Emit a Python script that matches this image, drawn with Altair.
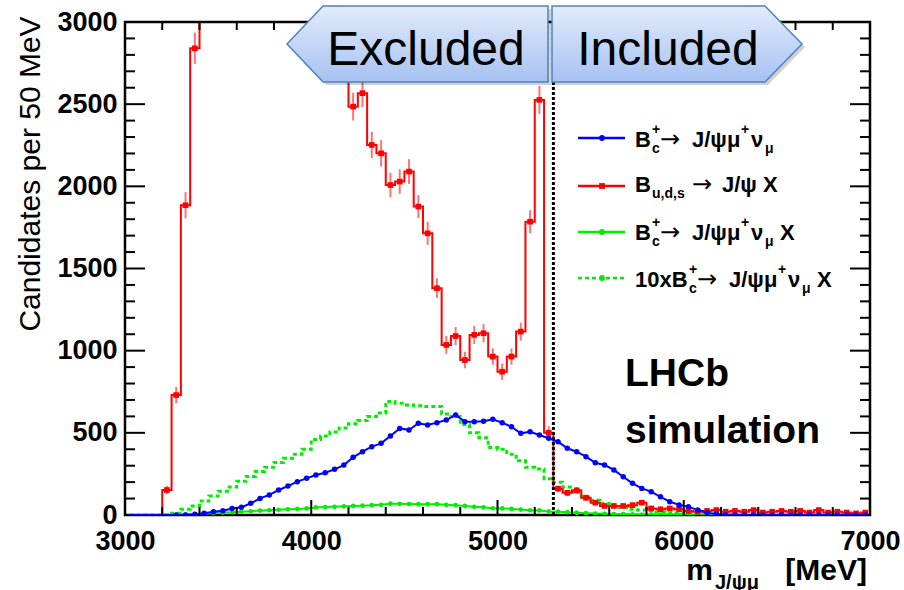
import altair as alt
import pandas as pd

FONT = "Liberation Sans"
W, H = 745, 493          # plot area
X0, Y0 = 125, 22         # plot origin in page pixels

# ---------------- data (50 MeV bins, centres 3025 ... 6975) ----------------
bin_centres = list(range(3025, 7000, 50))

blue_bc_jpsimunu = [0, 0, 0, 0, 0, 0, 0,
                    5, 10, 20, 26, 40, 47, 71, 101, 122, 152, 176, 203, 223,
                    243, 257, 278, 304, 351, 385, 416, 436, 481, 527,
                    517, 558, 548, 562, 578, 609, 568, 568, 570, 582,
                    562, 537, 497, 507, 487, 467, 446, 406, 385, 355,
                    318, 304, 274, 233, 193, 162, 142, 111, 81, 61,
                    51, 30, 14, 6, 2,
                    0, 0, 0, 0, 0, 0, 0, 0, 0, 0, 0, 0, 0, 0, 0]

red_budsx = [0, 0, 0, 0,
             152, 730, 1885, 2840,
             3600, 4300, 4800, 5100, 5300, 5300, 5200, 5000, 4800, 4500, 4200, 3900, 3600, 3400, 3200, 2950,
             2485, 2567, 2252, 2201, 2008, 2029, 2090, 1877, 1714, 1380,
             1035, 1089, 943, 1096, 1106, 964, 872, 964, 1116, 1785,
             2526, 500,
             160, 135, 150, 105, 75, 55, 55, 55, 60, 75,
             40, 35, 40, 35, 25, 20, 25, 30, 20, 25,
             20, 30, 15, 20, 25, 20, 25, 15, 30, 15,
             20, 15, 10, 15]

red_err = [0, 0, 0, 0,
           25, 50, 80, 95,
           100, 100, 100, 100, 100, 100, 100, 100, 100, 100, 100, 100, 100, 100, 100, 100,
           85, 85, 80, 80, 75, 75, 75, 70, 70, 60,
           55, 55, 50, 55, 55, 50, 50, 50, 55, 70,
           85, 40,
           20, 20, 20, 18, 15, 12, 12, 12, 12, 15,
           10, 10, 10, 10, 8, 8, 8, 9, 8, 8,
           8, 9, 7, 8, 8, 8, 8, 7, 9, 7,
           8, 7, 6, 7]

green_bc_jpsimunux = [0, 0, 0, 0, 0,
                      1, 3, 5, 8, 12, 15, 17, 20, 23, 27, 29, 32, 35, 37, 40,
                      46, 48, 50, 53, 55, 57, 60, 62, 69, 68,
                      67, 66, 66, 66, 62, 60, 55, 50, 47, 41,
                      40, 37, 33, 29, 28, 22, 20, 17, 14, 11,
                      9, 7, 6, 5, 4, 3, 2, 2, 1, 1,
                      1, 0, 0, 0, 0,
                      0, 0, 0, 0, 0, 0, 0, 0, 0, 0, 0, 0, 0, 0, 0]

green10_bc_jpsimunux = [0, 0, 0, 0, 0,
                        10, 35, 55, 85, 115, 145, 170, 205, 235, 265, 290, 320, 345, 370, 400,
                        460, 480, 505, 530, 555, 575, 600, 620, 690, 680,
                        670, 665, 660, 660, 615, 600, 550, 500, 470, 410,
                        400, 370, 330, 290, 280, 220, 200, 170, 140, 110,
                        90, 70, 55, 45, 35, 30, 25, 18, 14, 10,
                        8, 5, 3, 2, 1,
                        0, 0, 0, 0, 0, 0, 0, 0, 0, 0, 0, 0, 0, 0, 0]

x_tick_labels = [3000, 4000, 5000, 6000, 7000]
y_tick_labels = [0, 500, 1000, 1500, 2000, 2500, 3000]
x_minor = [3200, 3400, 3600, 3800, 4200, 4400, 4600, 4800, 5200, 5400, 5600, 5800, 6200, 6400, 6600, 6800]
x_major = [4000, 5000, 6000]
y_minor = [100, 200, 300, 400, 600, 700, 800, 900, 1100, 1200, 1300, 1400, 1600, 1700, 1800, 1900,
           2100, 2200, 2300, 2400, 2600, 2700, 2800, 2900]
y_major = [500, 1000, 1500, 2000, 2500]
cut_mass = [5300]

# ---------------- tables ----------------
df_blue = pd.DataFrame({"m": bin_centres, "v": blue_bc_jpsimunu})
df_red = pd.DataFrame({"m": bin_centres, "v": red_budsx})
df_red_err = pd.DataFrame({"m": bin_centres,
                           "v": [a - e for a, e in zip(red_budsx, red_err)],
                           "v2": [a + e for a, e in zip(red_budsx, red_err)]})
df_red_err = df_red_err[df_red_err["v2"] > 0]
df_green = pd.DataFrame({"m": bin_centres, "v": green_bc_jpsimunux})
df_green10 = pd.DataFrame({"m": bin_centres, "v": green10_bc_jpsimunux})

x_scale = alt.Scale(domain=[3000, 7000], nice=False, zero=False)
y_scale = alt.Scale(domain=[0, 3000], nice=False)
x_axis = alt.Axis(values=x_tick_labels, format="d", ticks=False, tickSize=0, domain=False, grid=False,
                  title=None, labelPadding=13, labelFont=FONT, labelFontSize=27, labelFlush=False,
                  labelFontWeight="bold", labelColor="black")
y_axis = alt.Axis(values=y_tick_labels, format="d", ticks=False, tickSize=0, domain=False, grid=False,
                  title=None, labelPadding=8, labelFont=FONT, labelFontSize=27, labelFlush=False,
                  labelFontWeight="bold", labelColor="black")
X = alt.X("m:Q", scale=x_scale, axis=x_axis)
Y = alt.Y("v:Q", scale=y_scale, axis=y_axis)
Y2 = alt.Y2("v2:Q")

BLUE, RED, GREEN = "#0000ff", "#ff0000", "#00ee00"

layers = []

# green x10 (dotted)
layers.append(alt.Chart(df_green10).mark_line(interpolate="step", color=GREEN, strokeWidth=3,
                                              strokeDash=[4, 3], clip=True).encode(x=X, y=Y))
# green solid
layers.append(alt.Chart(df_green).mark_line(color=GREEN, strokeWidth=2, clip=True).encode(x=X, y=Y))
layers.append(alt.Chart(df_green[df_green["m"] > 3250]).mark_point(shape="circle", filled=True, size=22,
                                                                  color=GREEN, opacity=1, clip=True).encode(x=X, y=Y))
# red histogram with errors
layers.append(alt.Chart(df_red_err[df_red_err["m"] > 3200]).mark_rule(color=RED, strokeWidth=2, opacity=0.55,
                                                                     clip=True).encode(x=X, y=Y, y2=Y2))
layers.append(alt.Chart(df_red).mark_line(interpolate="step", color=RED, strokeWidth=2, clip=True).encode(x=X, y=Y))
layers.append(alt.Chart(df_red[df_red["m"] > 3200]).mark_point(shape="square", filled=True, size=32,
                                                             color=RED, opacity=1, clip=True).encode(x=X, y=Y))
# blue
layers.append(alt.Chart(df_blue).mark_line(color=BLUE, strokeWidth=2, clip=True).encode(x=X, y=Y))
layers.append(alt.Chart(df_blue[df_blue["m"] > 3250]).mark_point(shape="circle", filled=True, size=30,
                                                                color=BLUE, opacity=1, clip=True).encode(x=X, y=Y))

# cut line
layers.append(alt.Chart(pd.DataFrame({"m": cut_mass})).mark_rule(color="black", strokeWidth=3,
                                                                strokeDash=[3, 2]).encode(
    x=X, y=alt.value(0), y2=alt.value(H)))

# inward ticks (ROOT style) on all four sides
for vals, ln in ((x_minor, 8), (x_major, 15)):
    d = pd.DataFrame({"m": vals})
    layers.append(alt.Chart(d).mark_rule(color="black", strokeWidth=2).encode(x=X, y=alt.value(H), y2=alt.value(H - ln)))
    layers.append(alt.Chart(d).mark_rule(color="black", strokeWidth=2).encode(x=X, y=alt.value(0), y2=alt.value(ln)))
for vals, ln in ((y_minor, 10), (y_major, 20)):
    d = pd.DataFrame({"v": vals})
    layers.append(alt.Chart(d).mark_rule(color="black", strokeWidth=2).encode(y=Y, x=alt.value(0), x2=alt.value(ln)))
    layers.append(alt.Chart(d).mark_rule(color="black", strokeWidth=2).encode(y=Y, x=alt.value(W), x2=alt.value(W - ln)))


# ---------------- callouts "Excluded" / "Included" ----------------
def xd(px):
    return 3000 + (px - X0) * 4000 / W


def yd(py):
    return (Y0 + H - py) * 3000 / H


def shape_df(pts, dx=0, dy=0):
    return pd.DataFrame({"m": [xd(p[0] + dx) for p in pts],
                         "v": [yd(p[1] + dy) for p in pts],
                         "v2": [yd(p[2] + dy) for p in pts]})


excl_pts = [(287, 44, 44), (323, 6, 82), (548, 6, 82)]
incl_pts = [(552, 6, 82), (765, 6, 82), (802, 44, 44)]
grad = alt.LinearGradient(gradient="linear",
                          stops=[alt.GradientStop(color="#e2ebfb", offset=0),
                                 alt.GradientStop(color="#a6c2f2", offset=1)],
                          x1=0, x2=0, y1=0, y2=1)
for pts in (excl_pts, incl_pts):
    layers.append(alt.Chart(shape_df(pts, 3, 3)).mark_area(color="#000000", opacity=0.18).encode(x=X, y=Y, y2=Y2))
    layers.append(alt.Chart(shape_df(pts)).mark_area(fill=grad, stroke="#4f81bd", strokeWidth=1.5,
                                                     opacity=1).encode(x=X, y=Y, y2=Y2))

one = pd.DataFrame({"a": [0]})


def txt(text, px, py, size, bold=True, align="left", font=FONT, angle=0):
    kw = dict(text=text, fontSize=size, font=font, align=align, baseline="alphabetic",
              fontWeight="bold" if bold else "normal", color="black")
    if angle:
        kw["angle"] = angle
    return alt.Chart(one).mark_text(**kw).encode(x=alt.value(px - X0), y=alt.value(py - Y0))


layers.append(txt("Excluded", 426, 65, 48, bold=False, align="center"))
layers.append(txt("Included", 668, 65, 48, bold=False, align="center"))

# ---------------- legend ----------------
leg = [(138, BLUE, "circle", None), (186, RED, "square", None),
       (232, GREEN, "circle", None), (278, GREEN, "circle", [4, 3])]
for yy, col, shp, dash in leg:
    kw = dict(color=col, strokeWidth=2.5)
    if dash:
        kw["strokeDash"] = dash
    layers.append(alt.Chart(one).mark_rule(**kw).encode(
        x=alt.value(578 - X0), x2=alt.value(625 - X0), y=alt.value(yy - Y0)))
    layers.append(alt.Chart(one).mark_point(shape=shp, filled=True, size=34, color=col, opacity=1).encode(
        x=alt.value(602 - X0), y=alt.value(yy - Y0)))

ARROW_FONT = "DejaVu Sans"
segments = [
    # entry 1
    ("B", 635, 147, 22, True, FONT), ("+", 652, 134, 14, True, FONT), ("c", 652, 153, 14, True, FONT),
    ("\u2192", 660, 147, 24, False, ARROW_FONT), ("J/\u03c8\u03bc", 692, 147, 22, True, FONT),
    ("+", 741, 134, 14, True, FONT), ("\u03bd", 751, 147, 22, True, FONT), ("\u03bc", 765, 153, 14, True, FONT),
    # entry 2
    ("B", 635, 192, 22, True, FONT), ("u,d,s", 652, 198, 14, True, FONT),
    ("\u2192", 692, 192, 24, False, ARROW_FONT), ("J/\u03c8 X", 722, 192, 22, True, FONT),
    # entry 3
    ("B", 635, 240, 22, True, FONT), ("+", 652, 227, 14, True, FONT), ("c", 652, 246, 14, True, FONT),
    ("\u2192", 660, 240, 24, False, ARROW_FONT), ("J/\u03c8\u03bc", 692, 240, 22, True, FONT),
    ("+", 741, 227, 14, True, FONT), ("\u03bd", 751, 240, 22, True, FONT), ("\u03bc", 765, 246, 14, True, FONT),
    ("X", 780, 240, 22, True, FONT),
    # entry 4
    ("10xB", 635, 287, 22, True, FONT), ("+", 689, 274, 14, True, FONT), ("c", 689, 293, 14, True, FONT),
    ("\u2192", 697, 287, 24, False, ARROW_FONT), ("J/\u03c8\u03bc", 729, 287, 22, True, FONT),
    ("+", 778, 274, 14, True, FONT), ("\u03bd", 788, 287, 22, True, FONT), ("\u03bc", 802, 293, 14, True, FONT),
    ("X", 817, 287, 22, True, FONT),
]
for t, px, py, s, b, f in segments:
    layers.append(txt(t, px, py, s, bold=b, font=f))

# LHCb label
layers.append(txt("LHCb", 625, 386, 39))
layers.append(txt("simulation", 625, 443, 39))

# axis titles
layers.append(txt("Candidates per 50 MeV", 40, 174, 30, bold=False, align="center", angle=270))
layers.append(txt("m", 713, 580, 30, align="right"))
layers.append(txt("J/\u03c8\u03bc", 715, 589, 20))
layers.append(txt("[MeV]", 867, 580, 30, align="right"))

chart = alt.layer(*layers).properties(
    width=W, height=H,
    padding={"left": X0, "top": Y0, "right": 904 - X0 - W, "bottom": 590 - Y0 - H},
    autosize=alt.AutoSizeParams(type="none"),
    background="white",
).configure_view(stroke="black", strokeWidth=2.5)

chart.save("out.html", embed_options={"renderer": "svg", "actions": False})
